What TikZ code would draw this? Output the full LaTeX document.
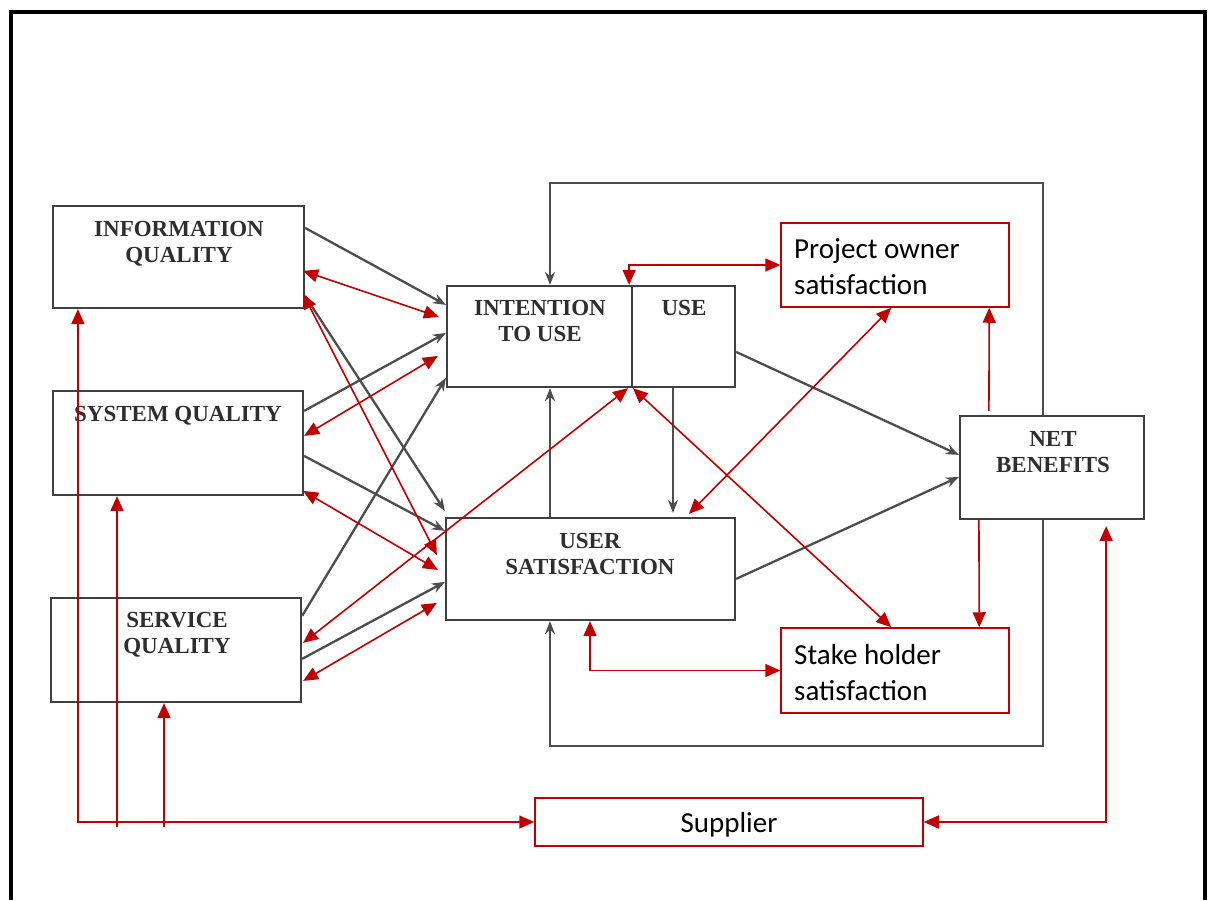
\documentclass[tikz,border=0pt]{standalone}
\usepackage{fontspec}
\setmainfont{Liberation Serif}
\newfontfamily\boxfont{Liberation Serif}
\newfontfamily\notefont{Carlito}
\usetikzlibrary{arrows.meta}
\definecolor{boxgray}{HTML}{404040}
\definecolor{linegray}{HTML}{4D4D4D}
\definecolor{textgray}{HTML}{2E2E2E}
\definecolor{darkred}{HTML}{C00000}

\begin{document}
\begin{tikzpicture}[x=1pt,y=-1pt,
  box/.style={draw=boxgray, line width=2.2pt, rectangle, inner sep=0pt},
  redbox/.style={draw=darkred, line width=1.5pt, rectangle, inner sep=0pt},
  boxtext/.style={font=\boxfont\bfseries\fontsize{23}{26.5}\selectfont, text=textgray, align=center, inner sep=0pt, anchor=north},
  notetext/.style={font=\notefont\fontsize{29}{36}\selectfont, align=left, inner sep=0pt, anchor=north west},
  flow/.style={draw=linegray, line width=2.3pt, -{Stealth[length=13pt,width=10pt]}},
  link/.style={draw=darkred, line width=1.6pt, {Triangle[length=15pt,width=13pt]}-{Triangle[length=15pt,width=13pt]}},
  feed/.style={draw=darkred, line width=1.6pt, -{Triangle[length=15pt,width=13pt]}},
]
\useasboundingbox (0,0) rectangle (1212,900);

% page frame
\draw[line width=3.5pt] (11,900) -- (11,12) -- (1205,12) -- (1205,900);

% model boxes
\node[box, minimum width=251pt, minimum height=102pt] (info) at (178.5,257) {};
\node[box, minimum width=250pt, minimum height=104pt] (sys) at (178,443) {};
\node[box, minimum width=250pt, minimum height=104pt] (serv) at (176,650) {};
\node[box, minimum width=185pt, minimum height=101pt] (itu) at (539.5,336.5) {};
\node[box, minimum width=103pt, minimum height=101pt] (use) at (683.5,336.5) {};
\node[box, minimum width=289pt, minimum height=102pt] (us) at (590.5,569) {};
\node[box, minimum width=184pt, minimum height=103pt] (nb) at (1052,467.5) {};

\node[boxtext] (infotext) at (179,221) {INFORMATION\\QUALITY};
\node[boxtext] (systext) at (178,406) {SYSTEM QUALITY};
\node[boxtext] (servtext) at (177,612) {SERVICE\\QUALITY};
\node[boxtext] (itutext) at (540,300) {INTENTION\\TO USE};
\node[boxtext] (usetext) at (684,300) {USE};
\node[boxtext] (ustext) at (590,533) {USER\\SATISFACTION};
\node[boxtext] (nbtext) at (1053,431) {NET\\BENEFITS};

% added stakeholder boxes
\node[redbox, minimum width=228pt, minimum height=84pt] (po) at (895,265) {};
\node[redbox, minimum width=228pt, minimum height=85pt] (sh) at (895,670.5) {};
\node[redbox, minimum width=388pt, minimum height=48pt] (sup) at (729,822) {};
\node[notetext] (potext) at (794,238) {Project owner\\satisfaction};
\node[notetext] (shtext) at (794,644) {Stake holder\\satisfaction};
\node[font=\notefont\fontsize{29}{36}\selectfont, inner sep=0pt] (suptext) at ([yshift=-3pt]sup.center) {Supplier};

% original model flows
\draw[flow] ([yshift=-23pt]info.north east) -- ([yshift=-20pt]itu.north west);
\draw[flow] ([yshift=-91pt]info.north east) -- ([yshift=6pt]us.north west);
\draw[flow] ([yshift=-21pt]sys.north east) -- ([yshift=-48pt]itu.north west);
\draw[flow] ([yshift=-66pt]sys.north east) -- ([yshift=-14pt]us.north west);
\draw[flow] ([yshift=-19pt]serv.north east) -- ([yshift=-93pt]itu.north west);
\draw[flow] ([yshift=-62pt]serv.north east) -- ([yshift=-65pt]us.north west);
\draw[flow] ([yshift=-67pt]use.north east) -- ([yshift=-40pt]nb.north west);
\draw[flow] ([yshift=-62pt]us.north east) -- ([yshift=-62pt]nb.north west);
\draw[flow] ([xshift=-40.5pt]us.north) -- ([xshift=10.5pt]itu.south);
\draw[flow] ([xshift=-10.5pt]use.south) -- ([xshift=82.5pt,yshift=4pt]us.north);
\draw[flow] ([xshift=-9pt]nb.north) -- ++(0,-232) -| ([xshift=10.5pt]itu.north);
\draw[flow] ([xshift=-9pt]nb.south) -- ++(0,226) -| ([xshift=-40.5pt]us.south);

% added relations
\draw[link] ([xshift=-2pt,yshift=-66pt]info.north east) -- ([xshift=-7pt,yshift=-32pt]itu.north west);
\draw[link] ([xshift=-2pt,yshift=-89pt]info.north east) -- ([xshift=-8pt,yshift=-38pt]us.north west);
\draw[link] ([yshift=-46pt]sys.north east) -- ([xshift=-8pt,yshift=-71pt]itu.north west);
\draw[link] ([xshift=-1pt,yshift=-101pt]sys.north east) -- ([xshift=-7pt,yshift=-53pt]us.north west);
\draw[link] ([xshift=1pt,yshift=-46pt]serv.north east) -- ([xshift=-5pt]itu.south east);
\draw[link] ([xshift=1pt,yshift=-84pt]serv.north east) -- ([xshift=-8pt,yshift=-86pt]us.north west);
\draw[link] ([xshift=2pt]use.south west) -- ([xshift=111pt]sh.north west);
\draw[link] ([xshift=111pt]po.south west) -- ([xshift=244pt,yshift=3pt]us.north west);
\draw[link] ([xshift=-4pt]itu.north east) |- (po.west);
\draw[link] ([xshift=-0.5pt]us.south) |- (sh.west);
\draw[feed] ([xshift=30pt,yshift=4pt]nb.north west) -- ([xshift=209pt]po.south west);
\draw[feed] ([xshift=20pt]nb.south west) -- ([xshift=199pt]sh.north west);

% supplier links
\draw[link] ([xshift=26pt]info.south west) |- (sup.west);
\coordinate (sysfoot) at (117,827);
\draw[feed] (sysfoot) -- (sysfoot |- sys.south);
\coordinate (servfoot) at (164,827);
\draw[feed] (servfoot) -- (servfoot |- serv.south);
\draw[link, shorten <=6pt] ([xshift=-39pt]nb.south east) |- (sup.east);
\end{tikzpicture}
\end{document}
